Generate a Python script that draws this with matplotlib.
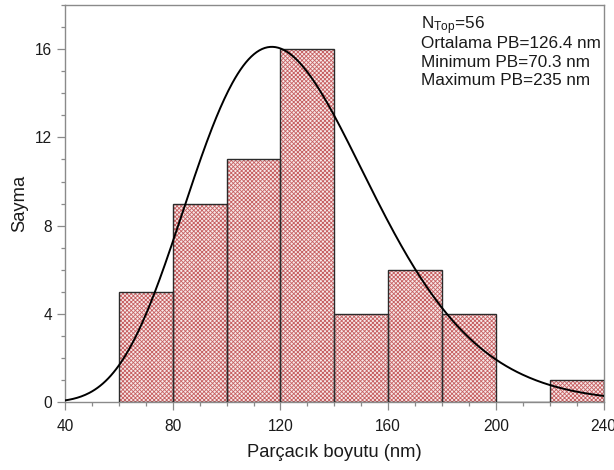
import numpy as np
import matplotlib
import matplotlib.pyplot as plt
from matplotlib.ticker import MultipleLocator

matplotlib.use('Agg')

plt.rcParams['font.family'] = ['Liberation Sans', 'DejaVu Sans']
plt.rcParams['hatch.linewidth'] = 0.6

# histogram bins (nm) and counts
bin_edges = [60, 80, 100, 120, 140, 160, 180, 200, 220, 240]
counts = [5, 9, 11, 16, 4, 6, 4, 0, 1]

# fitted distribution curve (skewed peak)
fit_peak_x = 116.8
fit_peak_y = 16.1
fit_power = 0.3
fit_width = 0.252

stats_lines = [r'$\mathregular{N_{Top}}$=56',
               'Ortalama PB=126.4 nm',
               'Minimum PB=70.3 nm',
               'Maximum PB=235 nm']

fig = plt.figure(figsize=(6.14, 4.70), dpi=100)
ax = fig.add_axes([0.1059, 0.144, 0.8771, 0.8456])

lefts = bin_edges[:-1]
widths = np.diff(bin_edges)

# hatched fill, then dark outline
ax.bar(lefts, counts, width=widths, align='edge', color='#f8e9e9',
       edgecolor='#c66062', linewidth=0, hatch='xxxxxxxx', zorder=2)
ax.bar(lefts, counts, width=widths, align='edge', color='none',
       edgecolor='#2b2b2b', linewidth=1.0, zorder=3)

xs = np.linspace(40, 240, 400)
g = xs ** fit_power - fit_peak_x ** fit_power
ys = fit_peak_y * np.exp(-g ** 2 / fit_width)
ax.plot(xs, ys, color='black', linewidth=1.4, zorder=4)

ax.set_xlim(40, 240)
ax.set_ylim(0, 18)
ax.xaxis.set_major_locator(MultipleLocator(40))
ax.xaxis.set_minor_locator(MultipleLocator(10))
ax.yaxis.set_major_locator(MultipleLocator(4))
ax.yaxis.set_minor_locator(MultipleLocator(1))

for side in ax.spines:
    ax.spines[side].set_color('#8a8a8a')
    ax.spines[side].set_linewidth(1.0)

ax.tick_params(which='major', direction='out', length=5.5, width=0.9,
               color='#8a8a8a', labelsize=11.2, labelcolor='#1a1a1a')
ax.tick_params(axis='x', which='major', pad=6.5)
ax.tick_params(axis='y', which='major', pad=4)
ax.tick_params(which='minor', direction='out', length=2.8, width=0.9,
               color='#8a8a8a')

ax.set_xlabel('Parçacık boyutu (nm)', fontsize=13.2, color='#1a1a1a')
ax.set_ylabel('Sayma', fontsize=13.2, color='#1a1a1a')
ax.xaxis.set_label_coords(0.5, -0.106)
ax.yaxis.set_label_coords(-0.068, 0.5)

baselines = [29.3, 48.3, 66.7, 85.0]  # pixel rows from the top
for txt, b in zip(stats_lines, baselines):
    fig.text(421 / 614, 1 - b / 470, txt, fontsize=12.3, va='baseline',
             ha='left', color='#1a1a1a')

fig.savefig('out.png', dpi=100)
